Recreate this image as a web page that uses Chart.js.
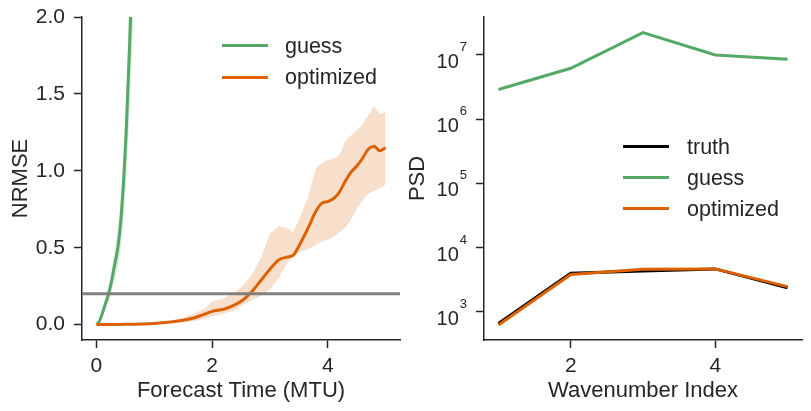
<!DOCTYPE html>
<html>
<head>
<meta charset="utf-8">
<script src="https://cdn.jsdelivr.net/npm/chart.js@4/dist/chart.umd.min.js"></script>
<style>
  body { margin: 0; background: #fff; font-family: "Liberation Sans", Arial, sans-serif; }
  #wrap { position: relative; width: 811px; height: 411px; }
  canvas { position: absolute; top: 0; }
  .leg { position: absolute; font-size: 21.5px; line-height: 24px; color: #262626; white-space: nowrap; }
  .swatch { position: absolute; width: 46px; height: 3px; }
</style>
</head>
<body>
<div id="wrap">
  <canvas id="nrmse" width="405" height="411" style="left:0"></canvas>
  <canvas id="psd" width="406" height="411" style="left:405px"></canvas>

  <!-- leyenda izquierda -->
  <div class="swatch" style="left:222px;top:44px;background:#55a868"></div>
  <div class="leg" style="left:285px;top:34px">guess</div>
  <div class="swatch" style="left:222px;top:76px;background:#dd6100"></div>
  <div class="leg" style="left:285px;top:65px">optimized</div>

  <!-- leyenda derecha -->
  <div class="swatch" style="left:623px;top:145px;background:#000"></div>
  <div class="leg" style="left:687px;top:135px">truth</div>
  <div class="swatch" style="left:623px;top:176px;background:#55a868"></div>
  <div class="leg" style="left:687px;top:166px">guess</div>
  <div class="swatch" style="left:623px;top:207px;background:#dd6100"></div>
  <div class="leg" style="left:687px;top:197px">optimized</div>
</div>

<script>
// Datos

// Panel 1: NRMSE frente al tiempo de pronóstico
const tGuess = [0, 0.03, 0.06, 0.1, 0.15, 0.21, 0.27, 0.32, 0.37, 0.42, 0.48, 0.51, 0.54, 0.57, 0.59, 0.62, 0.65];
const guessMean = [0, 0.01, 0.03, 0.07, 0.13, 0.2, 0.3, 0.4, 0.5, 0.67, 1.0, 1.22, 1.5, 1.78, 2.0, 2.4, 2.8];
const guessUpper = [0, 0.012, 0.036, 0.085, 0.16, 0.25, 0.37, 0.49, 0.62, 0.83, 1.22, 1.48, 1.82, 2.15, 2.42, 2.9, 3.4];
const guessLower = [0, 0.008, 0.024, 0.054, 0.1, 0.15, 0.23, 0.3, 0.38, 0.5, 0.76, 0.92, 1.14, 1.35, 1.52, 1.82, 2.12];

const tOpt = [0, 0.5, 1.0, 1.25, 1.5, 1.7, 1.85, 2.0, 2.2, 2.4, 2.55, 2.7, 2.85, 3.0, 3.15, 3.3, 3.4, 3.5, 3.65, 3.8, 3.9, 4.0, 4.1, 4.2, 4.3, 4.4, 4.5, 4.6, 4.7, 4.8, 4.9, 5.0];
const optMean = [0, 0.002, 0.008, 0.015, 0.028, 0.045, 0.065, 0.086, 0.1, 0.13, 0.165, 0.22, 0.29, 0.36, 0.42, 0.44, 0.45, 0.51, 0.62, 0.74, 0.79, 0.8, 0.82, 0.86, 0.93, 0.99, 1.03, 1.08, 1.14, 1.16, 1.13, 1.15];
const optUpper = [0, 0.003, 0.012, 0.022, 0.045, 0.075, 0.1, 0.15, 0.17, 0.21, 0.26, 0.33, 0.44, 0.59, 0.64, 0.63, 0.6, 0.68, 0.82, 1.02, 1.05, 1.07, 1.08, 1.1, 1.19, 1.23, 1.26, 1.3, 1.36, 1.42, 1.37, 1.38];
const optLower = [0, 0.001, 0.005, 0.01, 0.016, 0.025, 0.035, 0.052, 0.07, 0.095, 0.13, 0.16, 0.19, 0.23, 0.3, 0.4, 0.44, 0.47, 0.49, 0.52, 0.54, 0.55, 0.57, 0.6, 0.63, 0.68, 0.75, 0.81, 0.85, 0.87, 0.89, 0.91];

const threshold = 0.2;
const nrmseXTicks = [0, 2, 4];
const nrmseYTicks = [0, 0.5, 1.0, 1.5, 2.0];

// Panel 2: PSD frente al índice de número de onda
const wavenumber = [1, 2, 3, 4, 5];
const psdTruth = [656, 3980, 4300, 4650, 2360];
const psdGuess = [2.9e6, 6.2e6, 2.23e7, 1.0e7, 8.6e6];
const psdOptimized = [620, 3800, 4600, 4650, 2460];
const psdXTicks = [2, 4];
const psdYTicks = [1e3, 1e4, 1e5, 1e6, 1e7];

const GREEN = '#55a868';
const ORANGE = '#dd6100';
const INK = '#262626';
const FONT = '"Liberation Sans", Arial, sans-serif';

Chart.defaults.font.family = FONT;
Chart.defaults.color = INK;
Chart.defaults.animation = false;

const pts = (xs, ys) => xs.map((x, i) => ({ x: x, y: ys[i] }));

function axisStyle(extra, pad) {
    return Object.assign({
        border: { display: true, color: INK, width: 1.5 },
        grid: { display: true, drawOnChartArea: false, drawTicks: true, tickLength: 8, tickWidth: 1.5, tickColor: INK },
        ticks: { color: INK, padding: pad, font: { size: 21 } }
    }, extra);
}

// tamaño fijo de los ejes para que el área de la gráfica coincida
const fixHeight = h => s => { s.height = h; s.paddingLeft = 0; s.paddingRight = 0; };
const fixWidth = w => s => { s.width = w; s.paddingTop = 0; s.paddingBottom = 0; };

// 1. NRMSE
new Chart(document.getElementById('nrmse'), {
    type: 'line',
    data: {
        datasets: [
            { data: pts(tOpt, optMean), borderColor: ORANGE, borderWidth: 3, pointRadius: 0, cubicInterpolationMode: 'monotone', order: 1 },
            { data: pts(tGuess, guessMean), borderColor: GREEN, borderWidth: 3, pointRadius: 0, cubicInterpolationMode: 'monotone', order: 2 },
            { data: [{ x: -0.25, y: threshold }, { x: 5.25, y: threshold }], borderColor: '#808080', borderWidth: 3, pointRadius: 0, order: 0 },
            { data: pts(tOpt, optUpper), borderWidth: 0, pointRadius: 0, fill: '+1', backgroundColor: 'rgba(221,97,0,0.2)', order: 5 },
            { data: pts(tOpt, optLower), borderWidth: 0, pointRadius: 0, order: 5 },
            { data: pts(tGuess, guessUpper), borderWidth: 0, pointRadius: 0, fill: '+1', backgroundColor: 'rgba(85,168,104,0.22)', cubicInterpolationMode: 'monotone', order: 6 },
            { data: pts(tGuess, guessLower), borderWidth: 0, pointRadius: 0, cubicInterpolationMode: 'monotone', order: 6 }
        ]
    },
    options: {
        responsive: false,
        layout: { padding: { top: 17, right: 5, left: 0, bottom: 0 } },
        plugins: { legend: { display: false }, tooltip: { enabled: false } },
        scales: {
            x: axisStyle({
                type: 'linear', min: -0.25, max: 5.25,
                afterBuildTicks: s => { s.ticks = nrmseXTicks.map(v => ({ value: v })); },
                afterFit: fixHeight(71),
                title: { display: true, text: 'Forecast Time (MTU)', color: INK, font: { size: 22 }, padding: { top: 0, bottom: 7 } }
            }, 6),
            y: axisStyle({
                min: -0.1, max: 2.0,
                afterBuildTicks: s => { s.ticks = nrmseYTicks.map(v => ({ value: v })); },
                afterFit: fixWidth(82),
                title: { display: true, text: 'NRMSE', color: INK, font: { size: 22 }, padding: { top: 8, bottom: 8 } }
            }, 9)
        }
    }
});
// formato de las marcas del eje y
Chart.getChart('nrmse').options.scales.y.ticks.callback = v => v.toFixed(1);
Chart.getChart('nrmse').update();

// Etiquetas 10^n del eje logarítmico
const powerLabels = {
    id: 'powerLabels',
    afterDraw(chart) {
        const s = chart.scales.y;
        const ctx = chart.ctx;
        ctx.save();
        ctx.fillStyle = INK;
        ctx.textBaseline = 'alphabetic';
        ctx.textAlign = 'left';
        s.ticks.forEach(t => {
            const y = s.getPixelForValue(t.value);
            const exp = String(Math.round(Math.log10(t.value)));
            ctx.font = '20px ' + FONT;
            const w1 = ctx.measureText('10').width;
            ctx.font = '13px ' + FONT;
            const w2 = ctx.measureText(exp).width;
            const x0 = s.right - 17 - w2 - 1 - w1;
            ctx.font = '20px ' + FONT;
            ctx.fillText('10', x0, y + 13);
            ctx.font = '13px ' + FONT;
            ctx.fillText(exp, x0 + w1 + 1, y - 4);
        });
        ctx.restore();
    }
};

// 2. PSD
new Chart(document.getElementById('psd'), {
    type: 'line',
    data: {
        datasets: [
            { data: pts(wavenumber, psdOptimized), borderColor: ORANGE, borderWidth: 3, pointRadius: 0 },
            { data: pts(wavenumber, psdTruth), borderColor: '#000000', borderWidth: 3, pointRadius: 0 },
            { data: pts(wavenumber, psdGuess), borderColor: GREEN, borderWidth: 3, pointRadius: 0 }
        ]
    },
    options: {
        responsive: false,
        layout: { padding: { top: 17, right: 9, left: 0, bottom: 0 } },
        plugins: { legend: { display: false }, tooltip: { enabled: false } },
        scales: {
            x: axisStyle({
                type: 'linear', min: 0.8, max: 5.2,
                afterBuildTicks: s => { s.ticks = psdXTicks.map(v => ({ value: v })); },
                afterFit: fixHeight(71),
                title: { display: true, text: 'Wavenumber Index', color: INK, font: { size: 22 }, padding: { top: 0, bottom: 7 } }
            }, 6),
            y: axisStyle({
                type: 'logarithmic', min: 363, max: 3.9e7,
                afterBuildTicks: s => { s.ticks = psdYTicks.map(v => ({ value: v })); },
                afterFit: fixWidth(79),
                title: { display: true, text: 'PSD', color: INK, font: { size: 22 }, padding: { top: 0, bottom: 0 } }
            }, 8)
        }
    },
    plugins: [powerLabels]
});
// las etiquetas del eje log las dibuja el plugin
Chart.getChart('psd').options.scales.y.ticks.display = false;
Chart.getChart('psd').update();
</script>
</body>
</html>
